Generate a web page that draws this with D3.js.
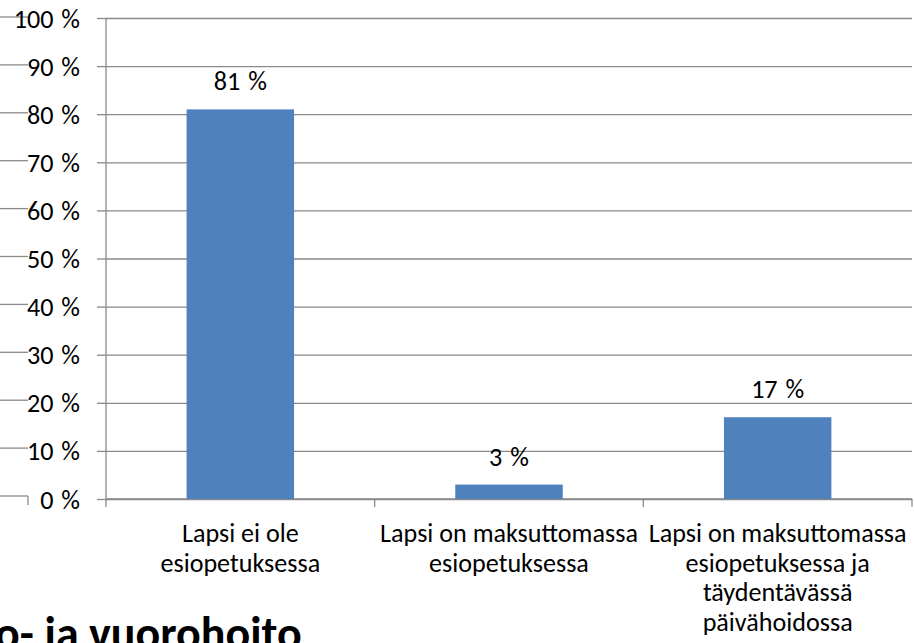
<!DOCTYPE html>
<html>
<head>
<meta charset="utf-8">
<script src="https://cdn.jsdelivr.net/npm/d3@7"></script>
<style>
  html, body { margin: 0; padding: 0; background: #ffffff; overflow: hidden; }
  svg { display: block; }
</style>
</head>
<body>
<svg id="chart" width="914" height="643"></svg>
<script>
// ---- data ----
const categories = [
  "Lapsi ei ole esiopetuksessa",
  "Lapsi on maksuttomassa esiopetuksessa",
  "Lapsi on maksuttomassa esiopetuksessa ja täydentävässä päivähoidossa"
];
const categoryLines = [
  ["Lapsi ei ole", "esiopetuksessa"],
  ["Lapsi on maksuttomassa", "esiopetuksessa"],
  ["Lapsi on maksuttomassa", "esiopetuksessa ja", "täydentävässä", "päivähoidossa"]
];
const values = [81, 3, 17];
const valueLabels = ["81 %", "3 %", "17 %"];
const yTicks = [0, 10, 20, 30, 40, 50, 60, 70, 80, 90, 100];
const yTickLabels = ["0 %", "10 %", "20 %", "30 %", "40 %", "50 %", "60 %", "70 %", "80 %", "90 %", "100 %"];
const backgroundTitle = "o- ja vuorohoito";

// ---- layout ----
const W = 914, H = 643;
const plot = { left: 106, right: 912, top: 18, bottom: 499 };
const gridColor = "#8a8a8a";
const barColor = "#4f81bd";
const fontFamily = "Carlito, Calibri, Lato, 'Open Sans', sans-serif";
let fontSize = 23;
const lineStep = 29.5;

const svg = d3.select("#chart");

const x = d3.scaleBand().domain(categories).range([plot.left, plot.right])
  .paddingInner(0.6).paddingOuter(0.3);
const xCat = d3.scaleBand().domain(categories).range([plot.left, plot.right]).padding(0);
const y = d3.scaleLinear().domain([0, 100]).range([plot.bottom, plot.top]);
const yGhost = d3.scaleLinear().domain([0, 100]).range([496, 17]);

// background slide title (partly cut by the bottom edge)
svg.append("text")
  .attr("x", -5).attr("y", 649)
  .attr("text-anchor", "start")
  .attr("font-family", fontFamily)
  .attr("font-weight", 700)
  .attr("font-size", 46)
  .attr("fill", "#000")
  .text(backgroundTitle);

// ghost gridlines of a chart behind, on the far left
const ghost = svg.append("g").attr("stroke", gridColor).attr("stroke-width", 1.3).attr("fill", "none");
ghost.selectAll("line.g").data(yTicks).join("line")
  .attr("x1", 0).attr("x2", 28)
  .attr("y1", d => yGhost(d)).attr("y2", d => yGhost(d));
ghost.append("line")
  .attr("x1", 28).attr("x2", 28)
  .attr("y1", yGhost(0)).attr("y2", yGhost(0) + 9);

// gridlines
const grid = svg.append("g")
  .attr("transform", `translate(${plot.left},0)`)
  .call(d3.axisLeft(y).tickValues(yTicks).tickSize(-(plot.right - plot.left)).tickFormat(""));
grid.select(".domain").remove();
grid.selectAll(".tick line").attr("stroke", gridColor).attr("stroke-width", 1.3);

// y axis
const yAxis = svg.append("g")
  .attr("transform", `translate(${plot.left},0)`)
  .call(d3.axisLeft(y).tickValues(yTicks).tickSize(9).tickPadding(17)
    .tickFormat((d, i) => yTickLabels[i]));
yAxis.select(".domain").remove();
yAxis.selectAll(".tick line").attr("stroke", gridColor).attr("stroke-width", 1.3);
yAxis.selectAll(".tick text")
  .attr("class", "lbl pct")
  .attr("fill", "#000")
  .attr("dy", null)
  .attr("dominant-baseline", "central");
svg.append("line")
  .attr("x1", plot.left).attr("x2", plot.left)
  .attr("y1", y(100)).attr("y2", y(0) + 8)
  .attr("stroke", gridColor).attr("stroke-width", 1.3);

// x axis line + boundary ticks
svg.append("line")
  .attr("x1", plot.left).attr("x2", plot.right)
  .attr("y1", y(0)).attr("y2", y(0))
  .attr("stroke", gridColor).attr("stroke-width", 1.3);
svg.append("g").selectAll("line").data(categories).join("line")
  .attr("x1", d => xCat(d) + xCat.step()).attr("x2", d => xCat(d) + xCat.step())
  .attr("y1", y(0)).attr("y2", y(0) + 8)
  .attr("stroke", gridColor).attr("stroke-width", 1.3);

// bars
svg.append("g").selectAll("rect").data(values).join("rect")
  .attr("x", (d, i) => x(categories[i]))
  .attr("width", x.bandwidth())
  .attr("y", d => y(d))
  .attr("height", d => y(0) - y(d))
  .attr("fill", barColor);

// value labels
svg.append("g").selectAll("text").data(values).join("text")
  .attr("class", "lbl pct")
  .attr("x", (d, i) => x(categories[i]) + x.bandwidth() / 2)
  .attr("y", d => y(d) - 19)
  .attr("text-anchor", "middle")
  .attr("fill", "#000")
  .text((d, i) => valueLabels[i]);

// category labels
const catG = svg.append("g");
categories.forEach((c, i) => {
  const cx = xCat(c) + xCat.bandwidth() / 2;
  const t = catG.append("text")
    .attr("class", "lbl")
    .attr("x", cx)
    .attr("y", 542)
    .attr("text-anchor", "middle")
    .attr("fill", "#000");
  categoryLines[i].forEach((line, j) => {
    t.append("tspan")
      .attr("x", cx)
      .attr("y", 542 + j * lineStep)
      .text(line);
  });
});

svg.selectAll(".lbl").attr("font-family", fontFamily).attr("font-size", fontSize);
svg.selectAll(".pct").attr("word-spacing", 2);

// fit the substitute font to the reference text width
const probe = svg.append("text").attr("font-family", fontFamily).attr("font-size", fontSize)
  .text(categoryLines[1][0]);
const len = probe.node().getComputedTextLength();
probe.remove();
if (len > 0) {
  fontSize = fontSize * 258 / len;
  svg.selectAll(".lbl").attr("font-size", fontSize);
}
</script>
</body>
</html>
